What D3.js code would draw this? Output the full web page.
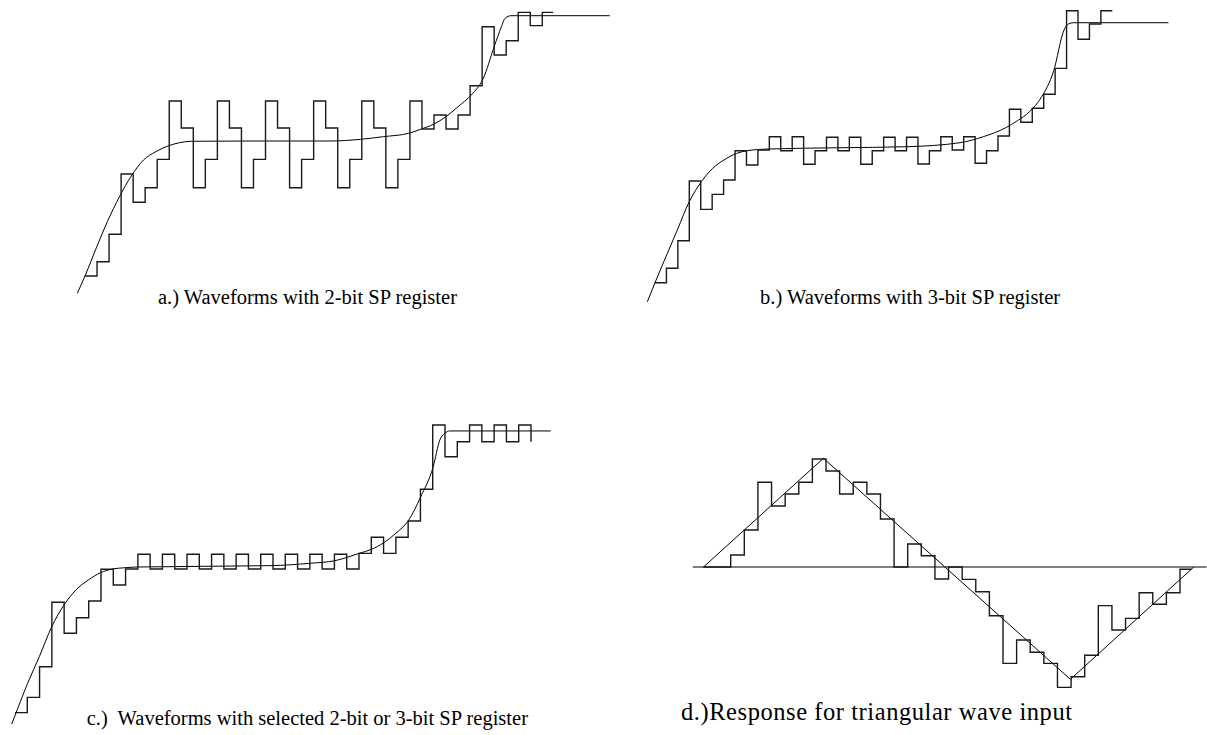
<!DOCTYPE html>
<html>
<head>
<meta charset="utf-8">
<script src="https://cdn.jsdelivr.net/npm/d3@7"></script>
<style>
  body { margin: 0; background: #fff; }
</style>
</head>
<body>
<svg id="chart" width="1207" height="735"></svg>
<script>
// ---- panel a: 2-bit SP register (step index -> quantized level)
const A_STEPS = [-9.64, -8.62, -6.66, -2.36, -4.38, -3.34, -1.31,
    2.86, 0.93, -3.34, -1.31, 2.86, 0.93, -3.34, -1.31, 2.86, 0.93, -3.34, -1.31,
    2.86, 0.93, -3.34, -1.31, 2.86, 0.93, -3.34, -1.31, 2.86,
    0.86, 1.86, 0.86, 1.86, 3.95, 8.16, 6.14, 7.16, 9.19, 8.24, 9.19];
const A_END = 38.9;
const A_CURVE_T = [-0.64, 0, 0.98, 1.86, 2.86, 3.86, 4.86, 5.89, 6.89, 7.86, 8.86, 13.75, 20.4,
    22.9, 24.8, 26.9, 27.9, 29, 30, 31, 32.1, 33.1, 34, 34.6, 34.9, 35.4, 43.6];
const A_CURVE_V = [-10.88, -9.64, -7.55, -5.76, -3.98, -2.48, -1.36, -0.76, -0.36, -0.12, -0.02, 0, 0,
    0.12, 0.31, 0.55, 0.84, 1.21, 1.74, 2.45, 3.29, 4.48, 6.74, 8.16, 8.76, 8.95, 8.95];

// ---- panel b: 3-bit SP register
const B_STEPS = [-9.55, -8.52, -6.55, -2.29, -4.31, -3.24, -2.21, -0.12, -1.14, -0.07,
    0.88, -0.12, 0.88, -1.09, -0.12, 0.84, -0.12, 0.84, -1.09, -0.12,
    0.84, -0.12, 0.84, -1.07, -0.12, 0.88, -0.07, 0.88, -1.02, -0.12,
    0.93, 2.84, 1.91, 2.91, 3.91, 5.76, 9.88, 7.84, 8.93, 9.88];
const B_END = 40;
const B_CURVE_T = [-0.67, 0, 1.02, 1.95, 3.0, 4.05, 5.05, 6.12, 7.15, 8.08, 9.97, 16.19, 21.87,
    26.68, 28.72, 30.68, 31.7, 32.75, 33.83, 34.85, 35.78, 36.16, 36.6, 44.91];
const B_CURVE_V = [-10.91, -9.55, -7.57, -5.79, -3.76, -2.34, -1.38, -0.74, -0.31, -0.12, 0, 0.09, 0.16,
    0.45, 0.88, 1.52, 2.02, 2.66, 3.74, 5.52, 8.5, 8.93, 9.02, 9.02];

// ---- panel c: selected 2-bit or 3-bit
const C_STEPS = [-9.73, -8.71, -6.67, -2.37, -4.44, -3.4, -2.29, -0.17, -1.22,
    -0.15, 0.83, -0.15, 0.83, -0.15, 0.83, -0.15, 0.83, -0.15, 0.83,
    -0.15, 0.83, -0.15, 0.83, -0.15, 0.83, -0.15, 0.83, -0.15,
    0.89, 1.96, 0.89, 1.96, 3.05, 5.16, 9.45, 7.33, 8.33, 9.45, 8.33, 9.45, 8.33, 9.45];
const C_LAST = 8.33; // final drop at the end
const C_CURVE_T = [-0.27, -0.14, 1.03, 1.98, 2.99, 3.99, 4.96, 5.96, 6.97, 7.95, 8.95, 9.95, 20.75,
    24.06, 26.04, 28.01, 29.02, 30.02, 31.0, 32.0, 33.03, 34.04, 34.58, 34.99, 35.39, 43.61];
const C_CURVE_V = [-10.49, -10.22, -7.77, -6.0, -4.0, -2.55, -1.55, -0.89, -0.4, -0.15, -0.07, -0.02, 0.07,
    0.23, 0.4, 0.89, 1.16, 1.6, 2.23, 3.05, 4.67, 6.67, 8.45, 8.89, 9.05, 9.05];

// ---- panel d: triangular wave input (steps start at index -2)
const D_STEPS = [0, 0, 1, 3.08, 7.06, 5.08, 6.08, 7.06, 9.0, 8.0, 6.08, 7.06, 6.08, 4.0, 0,
    1.92, 0.94, -1, 0, -1.03, -2.06, -4.06, -8.03, -6.08, -7.11, -8.03, -10.03, -9.14,
    -7.36, -3.22, -5.25, -4.28, -2.14, -3.11, -2.14, -0.19];
const D_START = -2;
const D_END = 33.85;
const D_TRI_T = [-2, 6.81, 24.95, 34.01];
const D_TRI_V = [0, 9.06, -9.36, 0];
const D_BASE_T = [-2.79, 34.95];

const LABELS = [
    "a.) Waveforms with 2-bit SP register",
    "b.) Waveforms with 3-bit SP register",
    "c.)\u00a0 Waveforms with selected 2-bit or 3-bit SP register",
    "d.)Response for triangular wave input"
];

const SERIF = "'Liberation Serif', 'Times New Roman', Times, 'DejaVu Serif', serif";

const svg = d3.select("#chart");
svg.append("rect").attr("width", 1207).attr("height", 735).attr("fill", "#fff");

function stepPoints(levels, start, end, extra){
    var pts = levels.map((v, i)=>[start + i, v]);
    pts.push([end, levels[levels.length - 1]]);
    if (extra !== undefined) pts.push([end, extra]);
    return pts;
}

function drawPanel(p){
    var x = d3.scaleLinear().domain(p.xDomain).range(p.xRange);
    var y = d3.scaleLinear().domain([-10, 10]).range(p.yRange);
    var g = svg.append("g");

    var stepLine = d3.line().x(d=>x(d[0])).y(d=>y(d[1])).curve(d3.curveStepAfter);
    var smooth = d3.line().x(d=>x(d[0])).y(d=>y(d[1])).curve(p.curve || d3.curveMonotoneX);

    if (p.base){
        g.append("path")
            .attr("d", d3.line().x(d=>x(d[0])).y(d=>y(d[1]))(p.base))
            .attr("fill", "none").attr("stroke", "#000").attr("stroke-width", 1.2);
    }
    g.append("path")
        .attr("d", smooth(p.curvePts))
        .attr("fill", "none").attr("stroke", "#000").attr("stroke-width", 1);
    g.append("path")
        .attr("d", stepLine(p.steps))
        .attr("fill", "none").attr("stroke", "#1a1a1a").attr("stroke-width", 1.4);

    var t = svg.append("text")
        .attr("x", p.label[0]).attr("y", p.label[1])
        .attr("font-family", SERIF)
        .attr("font-size", p.fontSize)
        .attr("fill", "#000")
        .text(p.text);
    if (p.textLength) t.attr("textLength", p.textLength).attr("lengthAdjust", "spacing");
}

const zip = (ts, vs)=>ts.map((t, i)=>[t, vs[i]]);

drawPanel({
    xDomain: [0, 38], xRange: [85, 542.3], yRange: [281, 1],
    steps: stepPoints(A_STEPS, 0, A_END),
    curvePts: zip(A_CURVE_T, A_CURVE_V),
    label: [158, 304], fontSize: 20.5, text: LABELS[0]
});
drawPanel({
    xDomain: [0, 40], xRange: [655, 1112.3], yRange: [289, 9],
    steps: stepPoints(B_STEPS, 0, B_END),
    curvePts: zip(B_CURVE_T, B_CURVE_V),
    label: [760, 304], fontSize: 20.5, text: LABELS[1]
});
drawPanel({
    xDomain: [0, 42], xRange: [15, 531], yRange: [716.7, 416.7],
    steps: stepPoints(C_STEPS, 0, C_STEPS.length, C_LAST),
    curvePts: zip(C_CURVE_T, C_CURVE_V),
    label: [86.7, 725], fontSize: 20.5, text: LABELS[2]
});
drawPanel({
    xDomain: [0, 33], xRange: [730.7, 1180], yRange: [687, 447],
    steps: stepPoints(D_STEPS, D_START, D_END),
    curvePts: zip(D_TRI_T, D_TRI_V), curve: d3.curveLinear,
    base: D_BASE_T.map(t=>[t, 0]),
    label: [681, 720], fontSize: 24.5, textLength: 391, text: LABELS[3]
});
</script>
</body>
</html>
